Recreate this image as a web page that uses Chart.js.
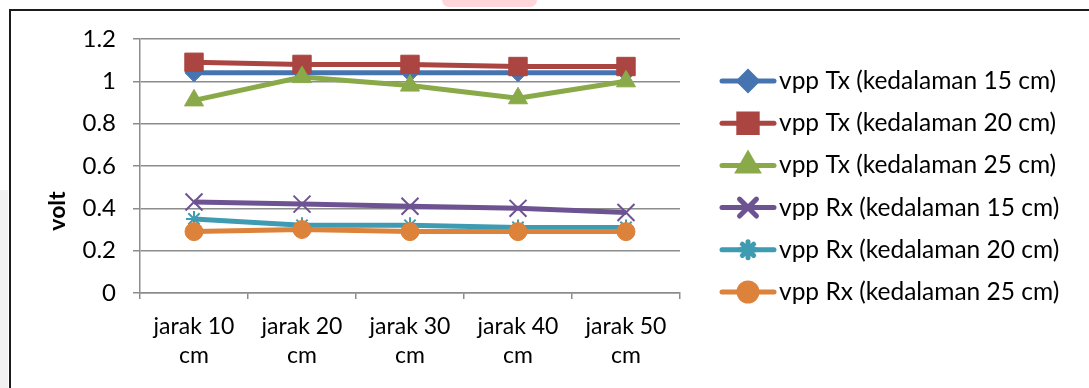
<!DOCTYPE html>
<html>
<head>
<meta charset="utf-8">
<script src="https://cdn.jsdelivr.net/npm/chart.js@4.4.0/dist/chart.umd.min.js"></script>
<style>
  body { margin: 0; background: #fff; }
  #wrap { position: relative; width: 1089px; height: 388px; overflow: hidden; }
  #frame { position: absolute; left: 9px; top: 9px; width: 1200px; height: 500px;
           border-top: 2px solid #1c1c1c; border-left: 2px solid #1c1c1c; }
  #shade { position: absolute; left: 0; top: 190px; width: 8px; height: 200px; background: #f1f1f1; }
  #blob { position: absolute; left: 442px; top: 0; width: 95px; height: 7px; background: #ffd6da; border-radius: 0 0 30px 30px; }
  canvas { position: absolute; left: 0; top: 0; }
</style>
</head>
<body>
<div id="wrap">
  <div id="shade"></div>
  <div id="blob"></div>
  <div id="frame"></div>
  <canvas id="lineChart" width="1089" height="388"></canvas>
</div>
<script>
var categories = [["jarak 10", "cm"], ["jarak 20", "cm"], ["jarak 30", "cm"], ["jarak 40", "cm"], ["jarak 50", "cm"]];

var txDepth15 = [1.04, 1.04, 1.04, 1.04, 1.04];
var txDepth20 = [1.09, 1.08, 1.08, 1.07, 1.07];
var txDepth25 = [0.91, 1.02, 0.98, 0.92, 1.00];
var rxDepth15 = [0.43, 0.42, 0.41, 0.40, 0.38];
var rxDepth20 = [0.35, 0.32, 0.32, 0.31, 0.31];
var rxDepth25 = [0.29, 0.30, 0.29, 0.29, 0.29];

var yMin = 0, yMax = 1.2, yStep = 0.2;
var yTitle = "volt";

var fontFamily = "Lato, 'Open Sans', sans-serif";

function series(label, data, color, style, radius, markerWidth, idx) {
  return {
    label: label,
    data: data,
    borderColor: color,
    backgroundColor: color,
    borderWidth: 5,
    pointStyle: style,
    pointRadius: radius,
    pointHoverRadius: radius,
    pointBorderColor: color,
    pointBackgroundColor: color,
    pointBorderWidth: markerWidth,
    order: -idx
  };
}

var datasets = [
  series("vpp Tx (kedalaman 15 cm)", txDepth15, "#4674b0", "rectRot", 9, 1, 0),
  series("vpp Tx (kedalaman 20 cm)", txDepth20, "#ab4541", "rect", 13, 1, 1),
  series("vpp Tx (kedalaman 25 cm)", txDepth25, "#8aa948", "triangle", 11, 1, 2),
  series("vpp Rx (kedalaman 15 cm)", rxDepth15, "#6d5391", "crossRot", 12, 2, 3),
  series("vpp Rx (kedalaman 20 cm)", rxDepth20, "#3f9bb2", "star", 8, 2, 4),
  series("vpp Rx (kedalaman 25 cm)", rxDepth25, "#dc823a", "circle", 9, 1, 5)
];

// legend drawn as line + marker, and the rotated axis title
var extras = {
  id: "extras",
  afterDraw: function (chart) {
    var ctx = chart.ctx;
    ctx.save();
    chart.data.datasets.forEach(function (ds, i) {
      var y = 81 + i * 42.2;
      ctx.strokeStyle = ds.borderColor;
      ctx.fillStyle = ds.borderColor;
      ctx.lineWidth = 5;
      ctx.lineCap = "round";
      ctx.beginPath();
      ctx.moveTo(722, y);
      ctx.lineTo(774, y);
      ctx.stroke();
      Chart.helpers.drawPoint(ctx, {
        pointStyle: ds.pointStyle,
        radius: ds.pointRadius,
        borderWidth: ds.pointBorderWidth,
        rotation: 0
      }, 748, y);
      ctx.fillStyle = "#000";
      ctx.font = "24.5px " + fontFamily;
      ctx.textBaseline = "middle";
      ctx.textAlign = "left";
      ctx.fillText(ds.label, 779, y);
    });
    ctx.translate(58, 211);
    ctx.rotate(-Math.PI / 2);
    ctx.font = "bold 23px " + fontFamily;
    ctx.fillStyle = "#000";
    ctx.textAlign = "center";
    ctx.textBaseline = "middle";
    ctx.fillText(yTitle, 0, 0);
    ctx.restore();
  }
};

new Chart(document.getElementById("lineChart"), {
  type: "line",
  data: { labels: categories, datasets: datasets },
  options: {
    responsive: false,
    animation: false,
    layout: { padding: { top: 39, right: 409, bottom: 0, left: 0 } },
    plugins: { legend: { display: false }, tooltip: { enabled: false } },
    elements: { line: { tension: 0 } },
    scales: {
      x: {
        offset: true,
        grid: { offset: true, drawOnChartArea: false, drawTicks: true, tickLength: 6, color: "#8c8c8c", lineWidth: 1.5 },
        border: { color: "#8c8c8c", width: 1.5 },
        ticks: { color: "#000", maxRotation: 0, autoSkip: false, padding: 13,
                 font: { family: fontFamily, size: 23, lineHeight: 1.27 } },
        afterFit: function (s) { s.height = 95; }
      },
      y: {
        min: yMin, max: yMax,
        grid: { color: "#8c8c8c", lineWidth: 1.5, tickLength: 7 },
        border: { color: "#8c8c8c", width: 1.5 },
        ticks: { stepSize: yStep, color: "#000", padding: 17,
                 font: { family: fontFamily, size: 24 },
                 callback: function (v) { return String(Math.round(v * 10) / 10); } },
        afterFit: function (s) { s.width = 140; }
      }
    }
  },
  plugins: [extras]
});
</script>
</body>
</html>
